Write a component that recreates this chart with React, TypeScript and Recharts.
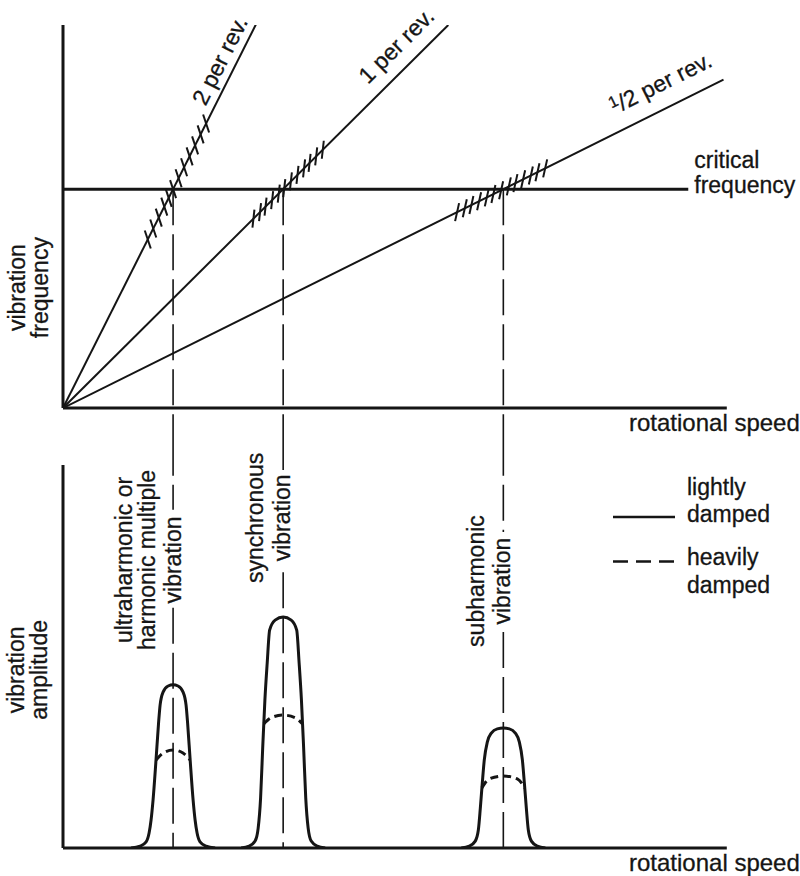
import React from "react";
import {
  ComposedChart, Line, Scatter, XAxis, YAxis, ReferenceLine, ReferenceDot, Legend,
} from "recharts";

const FONT = "'Liberation Sans', Arial, Helvetica, sans-serif";
const INK = "#151515";

// shared rotational speed axis
const speedDomain = [0, 6.05];
const speedAxisEnd = 6.03;

// top panel: vibration frequency vs rotational speed
const freqDomain = [0, 3.5];
const criticalFreq = 2;
const criticalEnd = 5.68;
const rayTwo = [{ s: 0, f: 0 }, { s: 1.76, f: 3.52 }];
const rayOne = [{ s: 0, f: 0 }, { s: 3.5, f: 3.5 }];
const rayHalf = [{ s: 0, f: 0 }, { s: 6.0, f: 3.0 }];
const crossings = [1, 2, 4];

const hatchTwo = [
  { s: 0.77, f: 1.54 }, { s: 0.82, f: 1.64 }, { s: 0.87, f: 1.74 }, { s: 0.92, f: 1.84 },
  { s: 0.96, f: 1.92 }, { s: 1.0, f: 2.0 }, { s: 1.05, f: 2.1 }, { s: 1.1, f: 2.2 },
  { s: 1.15, f: 2.3 }, { s: 1.2, f: 2.4 }, { s: 1.25, f: 2.5 }, { s: 1.3, f: 2.6 },
];
const hatchOne = [
  { s: 1.73, f: 1.73 }, { s: 1.79, f: 1.79 }, { s: 1.84, f: 1.84 }, { s: 1.9, f: 1.9 },
  { s: 1.96, f: 1.96 }, { s: 2.01, f: 2.01 }, { s: 2.07, f: 2.07 }, { s: 2.13, f: 2.13 },
  { s: 2.19, f: 2.19 }, { s: 2.24, f: 2.24 }, { s: 2.3, f: 2.3 }, { s: 2.36, f: 2.36 },
];
const hatchHalf = [
  { s: 3.58, f: 1.79 }, { s: 3.65, f: 1.825 }, { s: 3.71, f: 1.855 }, { s: 3.78, f: 1.89 },
  { s: 3.85, f: 1.925 }, { s: 3.91, f: 1.955 }, { s: 3.98, f: 1.99 }, { s: 4.05, f: 2.025 },
  { s: 4.11, f: 2.055 }, { s: 4.18, f: 2.09 }, { s: 4.25, f: 2.125 }, { s: 4.31, f: 2.155 },
  { s: 4.38, f: 2.19 },
];

// bottom panel: vibration amplitude vs rotational speed
const ampDomain = [0, 10];

const p1Speed = [0.618, 0.7, 0.755, 0.782, 0.8, 0.818, 0.845, 0.868, 0.882, 0.909, 0.955, 1.0,
  1.045, 1.091, 1.118, 1.132, 1.155, 1.182, 1.2, 1.218, 1.245, 1.3, 1.382];
const p1Light = [0, 0.05, 0.16, 0.39, 0.73, 1.25, 2.3, 3.26, 3.73, 4.07, 4.23, 4.26,
  4.23, 4.07, 3.73, 3.26, 2.3, 1.25, 0.73, 0.39, 0.16, 0.05, 0];
const p1HeavySpeed = [0.845, 0.91, 1.0, 1.09, 1.155];
const p1Heavy = [2.3, 2.48, 2.56, 2.48, 2.3];

const p2Speed = [1.618, 1.691, 1.745, 1.773, 1.795, 1.814, 1.834, 1.855, 1.877, 1.927, 2.0,
  2.073, 2.123, 2.145, 2.166, 2.186, 2.205, 2.227, 2.255, 2.309, 2.382];
const p2Light = [0, 0.05, 0.18, 0.52, 1.31, 2.61, 3.86, 4.83, 5.69, 5.95, 6.03,
  5.95, 5.69, 4.83, 3.86, 2.61, 1.31, 0.52, 0.18, 0.05, 0];
const p2HeavySpeed = [1.824, 1.89, 2.0, 2.11, 2.176];
const p2Heavy = [3.24, 3.4, 3.47, 3.4, 3.24];

const p3Speed = [3.618, 3.691, 3.745, 3.773, 3.791, 3.809, 3.827, 3.855, 3.891, 3.945, 4.0,
  4.055, 4.109, 4.145, 4.173, 4.191, 4.209, 4.227, 4.255, 4.309, 4.382];
const p3Light = [0, 0.05, 0.18, 0.47, 1.04, 1.7, 2.3, 2.77, 3.0, 3.11, 3.13,
  3.11, 3.0, 2.77, 2.3, 1.7, 1.04, 0.47, 0.18, 0.05, 0];
const p3HeavySpeed = [3.805, 3.87, 4.0, 4.13, 4.195];
const p3Heavy = [1.57, 1.8, 1.88, 1.8, 1.57];

// the guide lines break where their label sits
const guideRuns = [
  { s: 1, runs: [[10.66, 8.83], [6.27, 0]] },
  { s: 2, runs: [[10.66, 9.87], [7.2, 0]] },
  { s: 4, runs: [[10.66, 8.25], [5.64, 0]] },
];

const legendItems = [
  { top: "lightly", bottom: "damped", dash: undefined as string | undefined },
  { top: "heavily", bottom: "damped", dash: "15 8" },
];

const zip = (xs: number[], ys: number[]) => xs.map((s, i) => ({ s, a: ys[i] }));

const txt = { fontSize: 23, fontFamily: FONT, fill: INK, stroke: INK, strokeWidth: 0.3 };

const hatch = (lean: number) => (p: any) => (
  <line x1={p.cx - lean} y1={p.cy + 9} x2={p.cx + lean} y2={p.cy - 9} stroke={INK} strokeWidth={2} />
);

// text laid along a ray, lifted off it by `gap` px
const along = (label: React.ReactNode, angle: number, gap: number) => (p: any) => {
  const r = (angle * Math.PI) / 180;
  const x = p.cx - gap * Math.sin(r);
  const y = p.cy - gap * Math.cos(r);
  return <text x={x} y={y} transform={`rotate(${-angle} ${x} ${y})`} {...txt}>{label}</text>;
};

// vertical (reading upward) text columns; dx = baseline offset from the anchor
const upright = (lines: { t: string; dx: number }[]) => (p: any) => (
  <g>
    {lines.map((l) => (
      <text key={l.t} x={p.cx + l.dx} y={p.cy} textAnchor="middle"
        transform={`rotate(-90 ${p.cx + l.dx} ${p.cy})`} {...txt}>{l.t}</text>
    ))}
  </g>
);

const flat = (lines: { t: string; dx: number; dy: number }[], size = 23) => (p: any) => (
  <g>
    {lines.map((l) => (
      <text key={l.t + l.dy} x={p.cx + l.dx} y={p.cy + l.dy} {...txt} fontSize={size}>{l.t}</text>
    ))}
  </g>
);

function LegendBox() {
  return (
    <svg width={190} height={140}>
      {legendItems.map((it, i) => (
        <g key={it.top} transform={`translate(0 ${i * 70})`}>
          <line x1={3} x2={65} y1={i === 0 ? 47 : 21.5} y2={i === 0 ? 47 : 21.5} stroke={INK} strokeWidth={2.4}
            strokeDasharray={it.dash} />
          <text x={77} y={25} {...txt}>{it.top}</text>
          <text x={77} y={i === 0 ? 52 : 53} {...txt}>{it.bottom}</text>
        </g>
      ))}
    </svg>
  );
}

export default function App() {
  return (
    <div style={{ position: "absolute", left: 0, top: 0, width: 800, height: 876, background: "#fff" }}>
      <ComposedChart width={800} height={440} margin={{ top: 25, right: 71, bottom: 32, left: 63 }}>
        <XAxis type="number" dataKey="s" domain={speedDomain} allowDataOverflow hide />
        <YAxis type="number" domain={freqDomain} allowDataOverflow hide />
        <ReferenceLine segment={[{ x: 0, y: 0 }, { x: speedAxisEnd, y: 0 }]} stroke={INK} strokeWidth={3} ifOverflow="visible" />
        <ReferenceLine segment={[{ x: 0, y: 0 }, { x: 0, y: 3.5 }]} stroke={INK} strokeWidth={3} ifOverflow="visible" />
        <ReferenceLine segment={[{ x: 0, y: criticalFreq }, { x: criticalEnd, y: criticalFreq }]}
          stroke={INK} strokeWidth={3} ifOverflow="visible" />
        {crossings.map((s) => (
          <ReferenceLine key={s} segment={[{ x: s, y: criticalFreq }, { x: s, y: -0.3 }]}
            stroke={INK} strokeWidth={1.6} strokeDasharray="36 9" ifOverflow="visible" />
        ))}
        <Line data={rayTwo} dataKey="f" type="linear" stroke={INK} strokeWidth={2} dot={false} isAnimationActive={false} />
        <Line data={rayOne} dataKey="f" type="linear" stroke={INK} strokeWidth={2} dot={false} isAnimationActive={false} />
        <Line data={rayHalf} dataKey="f" type="linear" stroke={INK} strokeWidth={2} dot={false} isAnimationActive={false} />
        <Scatter data={hatchTwo} dataKey="f" shape={hatch(-3)} isAnimationActive={false} />
        <Scatter data={hatchOne} dataKey="f" shape={hatch(1)} isAnimationActive={false} />
        <Scatter data={hatchHalf} dataKey="f" shape={hatch(2)} isAnimationActive={false} />

        <ReferenceDot x={1.36} y={2.72} r={0} ifOverflow="visible" shape={along("2 per rev.", 63.3, 8)} />
        <ReferenceDot x={2.86} y={2.86} r={0} ifOverflow="visible" shape={along("1 per rev.", 44.8, 14)} />
        <ReferenceDot x={5.08} y={2.54} r={0} ifOverflow="visible" shape={along(
          <><tspan fontSize={16} dy={-7}>1</tspan><tspan dy={7}>/2 per rev.</tspan></>, 26.4, 17)} />
        <ReferenceDot x={criticalEnd} y={criticalFreq} r={0} ifOverflow="visible"
          shape={flat([{ t: "critical", dx: 6, dy: -21 }, { t: "frequency", dx: 6, dy: 4 }])} />
        <ReferenceDot x={6.05} y={0} r={0} ifOverflow="visible"
          shape={flat([{ t: "rotational speed", dx: -100, dy: 23 }], 24)} />
        <ReferenceDot x={0} y={1.1} r={0} ifOverflow="visible"
          shape={upright([{ t: "vibration", dx: -38 }, { t: "frequency", dx: -15 }])} />
      </ComposedChart>

      <ComposedChart width={800} height={436} margin={{ top: 25, right: 71, bottom: 28, left: 63 }}>
        <XAxis type="number" dataKey="s" domain={speedDomain} allowDataOverflow hide />
        <YAxis type="number" domain={ampDomain} allowDataOverflow hide />
        <ReferenceLine segment={[{ x: 0, y: 0 }, { x: speedAxisEnd, y: 0 }]} stroke={INK} strokeWidth={3} ifOverflow="visible" />
        <ReferenceLine segment={[{ x: 0, y: 0 }, { x: 0, y: 10 }]} stroke={INK} strokeWidth={3} ifOverflow="visible" />
        {guideRuns.flatMap((g) => g.runs.map((r, i) => (
          <ReferenceLine key={`${g.s}-${i}`} segment={[{ x: g.s, y: r[0] }, { x: g.s, y: r[1] }]}
            stroke={INK} strokeWidth={1.6} strokeDasharray="36 9" ifOverflow="visible" />
        )))}
        <Line data={zip(p1Speed, p1Light)} dataKey="a" type="monotone" stroke={INK} strokeWidth={3} dot={false} isAnimationActive={false} />
        <Line data={zip(p2Speed, p2Light)} dataKey="a" type="monotone" stroke={INK} strokeWidth={3} dot={false} isAnimationActive={false} />
        <Line data={zip(p3Speed, p3Light)} dataKey="a" type="monotone" stroke={INK} strokeWidth={3} dot={false} isAnimationActive={false} />
        <Line data={zip(p1HeavySpeed, p1Heavy)} dataKey="a" type="monotone" stroke={INK} strokeWidth={3} strokeDasharray="8 5" dot={false} isAnimationActive={false} />
        <Line data={zip(p2HeavySpeed, p2Heavy)} dataKey="a" type="monotone" stroke={INK} strokeWidth={3} strokeDasharray="8 5" dot={false} isAnimationActive={false} />
        <Line data={zip(p3HeavySpeed, p3Heavy)} dataKey="a" type="monotone" stroke={INK} strokeWidth={3} strokeDasharray="8 5" dot={false} isAnimationActive={false} />

        <ReferenceDot x={1} y={7.52} r={0} ifOverflow="visible" shape={upright([
          { t: "ultraharmonic or", dx: -41 }, { t: "harmonic multiple", dx: -18 }, { t: "vibration", dx: 8 },
        ])} />
        <ReferenceDot x={2} y={8.62} r={0} ifOverflow="visible" shape={upright([
          { t: "synchronous", dx: -20 }, { t: "vibration", dx: 7 },
        ])} />
        <ReferenceDot x={4} y={6.97} r={0} ifOverflow="visible" shape={upright([
          { t: "subharmonic", dx: -19 }, { t: "vibration", dx: 7 },
        ])} />
        <ReferenceDot x={6.05} y={0} r={0} ifOverflow="visible"
          shape={flat([{ t: "rotational speed", dx: -100, dy: 23 }], 24)} />
        <ReferenceDot x={0} y={4.65} r={0} ifOverflow="visible"
          shape={upright([{ t: "vibration", dx: -39 }, { t: "amplitude", dx: -16 }])} />
        <Legend layout="horizontal" verticalAlign="middle" align="center"
          wrapperStyle={{ left: 610, top: 30, width: 190, height: 140 }} content={() => <LegendBox />} />
      </ComposedChart>
    </div>
  );
}
